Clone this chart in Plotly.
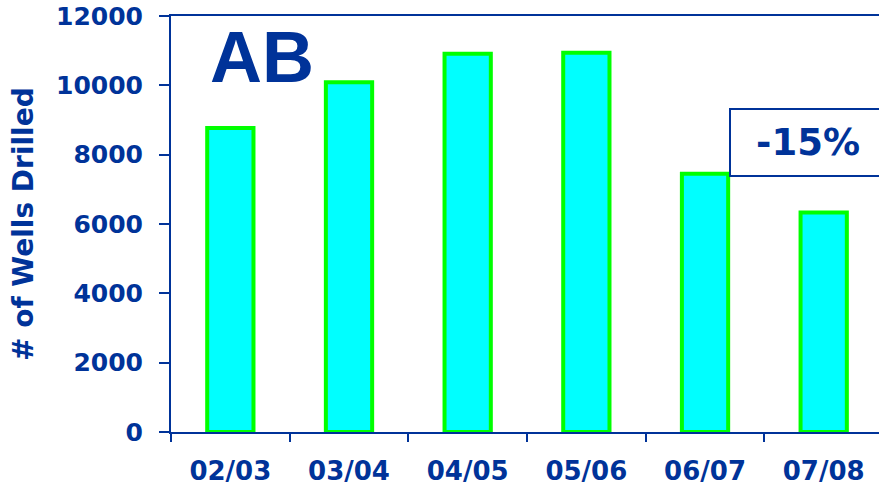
import plotly.graph_objects as go

seasons = ["02/03", "03/04", "04/05", "05/06", "06/07", "07/08"]
wells_drilled = [8770, 10090, 10910, 10940, 7450, 6330]
y_ticks = [0, 2000, 4000, 6000, 8000, 10000, 12000]
y_tick_labels = ["0", "2000", "4000", "6000", "8000", "10000", "12000"]
y_title = "# of Wells Drilled"
province_label = "AB"
change_label = "-15%"

BLUE = "#003399"
TICKFONT = dict(family="DejaVu Sans", weight="bold", color=BLUE)

fig = go.Figure()
fig.add_trace(go.Bar(
    x=seasons, y=wells_drilled, width=0.39,
    marker=dict(color="#00FFFF", line=dict(color="#00FF00", width=4)),
))

fig.update_layout(
    width=879, height=485,
    margin=dict(l=171, r=0, t=16, b=53, autoexpand=False),
    paper_bgcolor="white", plot_bgcolor="white",
    showlegend=False,
    xaxis=dict(
        type="category", range=[-0.5, 5.466], automargin=False,
        showline=True, linecolor=BLUE, linewidth=2, mirror=True,
        ticks="outside", tickson="boundaries", ticklen=8, tickwidth=2, tickcolor=BLUE,
        tickfont=dict(size=26, **TICKFONT), ticklabelstandoff=15,
        showgrid=False, zeroline=False,
    ),
    yaxis=dict(
        range=[0, 12000], tickvals=y_ticks, ticktext=y_tick_labels, automargin=False,
        showline=True, linecolor=BLUE, linewidth=2,
        ticks="outside", ticklen=10, tickwidth=2, tickcolor=BLUE,
        tickfont=dict(size=25, **TICKFONT), ticklabelstandoff=11,
        ticklabeloverflow="allow",
        showgrid=False, zeroline=False,
    ),
    annotations=[
        dict(text=y_title, xref="paper", yref="paper", x=(23 - 171) / 708, y=0.5,
             xanchor="center", yanchor="middle", textangle=-90, showarrow=False,
             font=dict(size=28, **TICKFONT)),
        dict(text=province_label, xref="paper", yref="paper", x=(262 - 171) / 708, y=1 - (57 - 16) / 416,
             xanchor="center", yanchor="middle", showarrow=False,
             font=dict(family="Liberation Sans", weight="bold", size=72, color=BLUE)),
        dict(text=change_label, xref="x", yref="y", x=4.865, y=8350,
             xanchor="center", yanchor="middle", showarrow=False,
             width=150, height=61, align="center", valign="middle",
             bgcolor="white", bordercolor=BLUE, borderwidth=2, borderpad=2,
             font=dict(family="DejaVu Sans", weight="bold", size=37, color=BLUE)),
    ],
)

fig.write_html("out.html", config={"displayModeBar": False},
               post_script="document.body.style.margin='0';")
